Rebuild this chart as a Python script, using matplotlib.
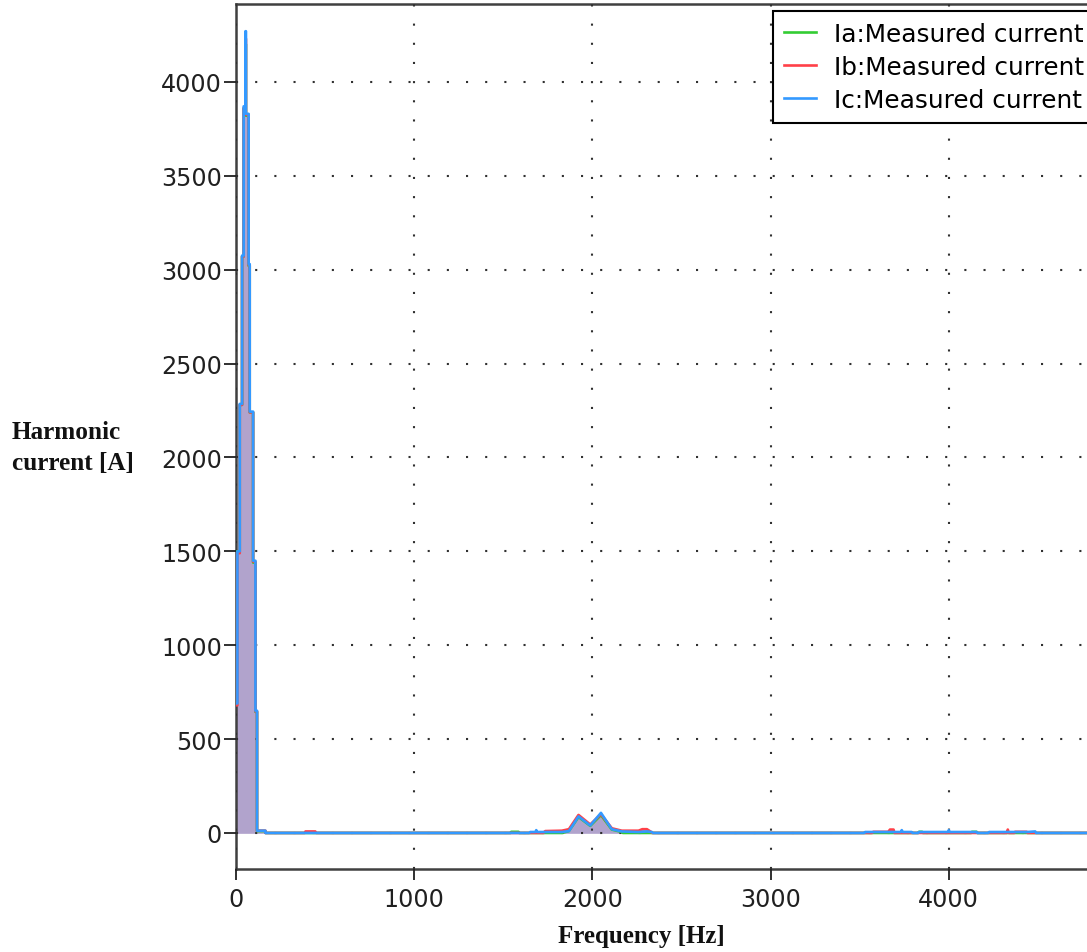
#!/usr/bin/env python3

import numpy as np
import matplotlib
matplotlib.use('Agg')
import matplotlib.pyplot as plt

# Line colours of the three phases
COLOR_A = '#33cc33'
COLOR_B = '#ff4048'
COLOR_C = '#3399ff'
FILL_COLOR = '#b1a3cc'

# Fundamental band (0-165 Hz) as bins: edges [Hz] and level per bin [A]
LOW_EDGES = [0, 8, 21, 34, 43, 53, 56, 71, 77, 96, 109, 118, 165]
IA_LOW = [1500, 1500, 2280, 3070, 3860, 4200, 3820, 3020, 2240, 1440, 645, 10]
IB_LOW = [680, 1490, 2280, 3070, 3860, 4230, 3825, 3025, 2240, 1445, 648, 12]
IC_LOW = [690, 1500, 2285, 3075, 3870, 4270, 3830, 3030, 2244, 1450, 651, 12]

# Remaining spectrum as sampled points [Hz], [A]
IA_FREQ = [165, 1540, 1545, 1585, 1590, 1830, 1868, 1922, 1988, 2048, 2109,
           2165, 2170, 3828, 3833, 3850, 3855, 4125, 4130, 4156, 4161, 5000]
IA_VAL = [0, 0, 6, 6, 0, 0, 10, 85, 38, 95, 18,
          5, 0, 0, 6, 6, 0, 0, 6, 6, 0, 0]

IB_FREQ = [165, 385, 390, 445, 450, 1725, 1735, 1829, 1868, 1922, 1988, 2048,
           2109, 2130, 2165, 2259, 2280, 2306, 2330, 2335, 3570, 3576, 3660,
           3670, 3690, 3695, 4325, 4331, 4337, 4367, 4372, 4437, 4442, 5000]
IB_VAL = [0, 0, 8, 8, 0, 0, 10, 12, 20, 96, 45, 100,
          25, 20, 12, 12, 20, 20, 5, 0, 0, 6, 6,
          18, 18, 0, 0, 18, 0, 0, 6, 6, 0, 0]

IC_FREQ = [165, 1645, 1651, 1680, 1685, 1690, 1735, 1829, 1868, 1922, 1988,
           2048, 2109, 2165, 2259, 2306, 2334, 2340, 3525, 3530, 3730, 3736,
           3742, 3792, 3797, 3828, 3833, 3995, 4000, 4005, 4156, 4161, 4221,
           4226, 4440, 4485, 4490, 5000]
IC_VAL = [0, 0, 5, 5, 15, 5, 5, 5, 10, 88, 40,
          107, 20, 8, 5, 8, 5, 0, 0, 5, 5, 15,
          5, 5, 0, 0, 5, 5, 15, 5, 5, 0, 0,
          5, 5, 8, 0, 0]

X_TICKS = [0, 1000, 2000, 3000, 4000]
Y_TICKS = [0, 500, 1000, 1500, 2000, 2500, 3000, 3500, 4000]


def spectrum(low_vals, freq, vals):
    # bins of the fundamental band drawn as steps, then the sampled points
    x = np.repeat(LOW_EDGES, 2)[1:-1]
    y = np.repeat(low_vals, 2)
    return np.concatenate([x, freq]), np.concatenate([y, vals])


series = [
    ('Ia:Measured current', COLOR_A, spectrum(IA_LOW, IA_FREQ, IA_VAL)),
    ('Ib:Measured current', COLOR_B, spectrum(IB_LOW, IB_FREQ, IB_VAL)),
    ('Ic:Measured current', COLOR_C, spectrum(IC_LOW, IC_FREQ, IC_VAL)),
]

W, H = 1087, 953
fig = plt.figure(figsize=(W / 100, H / 100), dpi=100)
ax = fig.add_axes([236 / W, 83 / H, 891 / W, 865 / H])

for _, _, (x, y) in series:
    ax.fill_between(x, 0, y, color=FILL_COLOR, linewidth=0, zorder=1)
for i, (label, color, (x, y)) in enumerate(series):
    ax.plot(x, y, color=color, linewidth=1.9, label=label, zorder=3 + i)

ax.set_xlim(0, 5000)
ax.set_ylim(-192, 4415)
ax.set_xticks(X_TICKS)
ax.set_yticks(Y_TICKS)

ax.grid(True, color='#303030', linewidth=1.5, linestyle=(0, (1, 8.2)), zorder=2)
ax.set_axisbelow(False)

for side in ['left', 'bottom', 'top', 'right']:
    ax.spines[side].set_color('#404040')
    ax.spines[side].set_linewidth(1.8)

ax.tick_params(axis='y', direction='out', length=9, width=1.3, pad=1,
               labelsize=17.2, colors='#202020')
ax.tick_params(axis='x', direction='out', length=8, width=1.3, pad=5,
               labelsize=17.2, colors='#202020')

fig.text(12 / W, 1 - 448 / H, 'Harmonic\ncurrent [A]', ha='left', va='center',
         family='Liberation Serif', weight='bold', fontsize=18.2, linespacing=1.45,
         color='#111111')
fig.text(641 / W, 1 - 937 / H, 'Frequency [Hz]', ha='center', va='center',
         family='Liberation Serif', weight='bold', fontsize=18, color='#111111')

leg = ax.legend(loc='upper left', bbox_to_anchor=(773 / W, 1 - 12 / H),
                bbox_transform=fig.transFigure, borderaxespad=0,
                fontsize=17.8, handlelength=1.3, handletextpad=0.7,
                labelspacing=0.36, borderpad=0.45, fancybox=False,
                framealpha=1, edgecolor='black')
leg.get_frame().set_linewidth(1.5)
leg.set_zorder(10)

fig.savefig('out.png', dpi=100)
